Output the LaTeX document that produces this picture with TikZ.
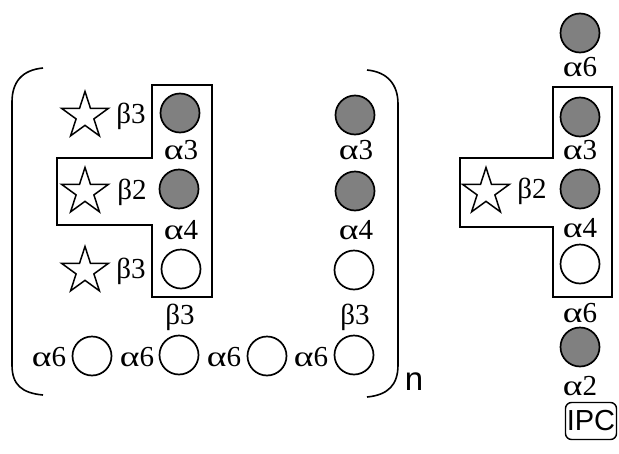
\documentclass[tikz,border=0pt]{standalone}
\usepackage{fontspec}
\setmainfont{Liberation Serif}
\newfontfamily\sansf{Liberation Sans}
\newfontfamily\alfont[FakeStretch=1.3]{Liberation Serif}
\newcommand{\alp}{{\alfont α}}
\usetikzlibrary{shapes.geometric}
\tikzset{
  sub/.style={circle,draw,line width=1.7pt,minimum size=39pt,inner sep=0pt},
  grayc/.style={sub,fill=black!50},
  whitec/.style={sub,fill=white},
  lab/.style={inner sep=0pt,font=\fontsize{29}{31}\selectfont},
  starx/.style={star,star points=5,star point ratio=2.618,draw,line width=1.5pt,minimum size=49pt,inner sep=0pt},
  frame/.style={line width=1.8pt},
}
\begin{document}
\begin{tikzpicture}[x=1pt,y=-1pt]
\useasboundingbox (0,0) rectangle (619,453);
% left T frame
\draw[frame] (152,85) -- (212,85) -- (212,297) -- (152,297) -- (152,225) -- (57,225) -- (57,158) -- (152,158) -- cycle;
% brackets
\draw[line width=1.6pt] (43,68) .. controls (22,70) and (12,82) .. (12,102) -- (12,365) .. controls (12,385) and (22,393) .. (43,395);
\draw[line width=1.6pt] (367,70) .. controls (388,72) and (398,85) .. (398,104) -- (398,365) .. controls (398,385) and (388,395) .. (367,397);
\node[lab,font=\sansf\fontsize{33}{35}\selectfont] (n) at (414,382) {n};
% left column
\node[grayc] (l1) at (180,113) {};
\node[grayc] (l2) at (179,189) {};
\node[whitec] (l3) at (181,269) {};
\node[lab] (la3) at (181,150) {\alp3};
\node[lab] (la4) at (181,230) {\alp4};
\node[lab] (lb3d) at (180,317) {β3};
\node[lab] (lb3) at (131,116) {β3};
\node[lab] (lb2) at (132,192) {β2};
\node[lab] (lb3b) at (131,271) {β3};
\node[starx] (s1) at (85,116) {};
\node[starx] (s2) at (85,192) {};
\node[starx] (s3) at (85,271) {};
% middle column
\node[grayc] (m1) at (355,115) {};
\node[grayc] (m2) at (355,191) {};
\node[whitec] (m3) at (354,270) {};
\node[lab] (ma3) at (356,150) {\alp3};
\node[lab] (ma4) at (356,230) {\alp4};
\node[lab] (mb3) at (355,317) {β3};
% bottom row
\node[whitec] (b1) at (92,356) {};
\node[whitec] (b2) at (179,355) {};
\node[whitec] (b3) at (267,356) {};
\node[whitec] (b4) at (354,355) {};
\node[lab] (ba1) at (49,357) {\alp6};
\node[lab] (ba2) at (137,357) {\alp6};
\node[lab] (ba3) at (224,357) {\alp6};
\node[lab] (ba4) at (311,357) {\alp6};
% right group
\draw[frame] (553,87) -- (612,87) -- (612,297) -- (553,297) -- (553,227) -- (460,227) -- (460,158) -- (553,158) -- cycle;
\node[grayc] (r0) at (580,33) {};
\node[lab] (ra6t) at (580,67) {\alp6};
\node[grayc] (r1) at (580,117) {};
\node[lab] (ra3) at (580,150) {\alp3};
\node[grayc] (r2) at (580,189) {};
\node[lab] (ra4) at (580,228) {\alp4};
\node[whitec] (r3) at (580,264) {};
\node[lab] (ra6b) at (580,313) {\alp6};
\node[grayc] (r4) at (580,347) {};
\node[lab] (ra2) at (580,386) {\alp2};
\node[starx] (rs) at (486,192) {};
\node[lab] (rb2) at (532,191) {β2};
\node[draw,line width=1.4pt,rounded corners=6pt,minimum width=51pt,minimum height=37pt,inner sep=0pt,font=\sansf\fontsize{29}{31}\selectfont] (ipc) at (591,421) {IPC};
\end{tikzpicture}
\end{document}
